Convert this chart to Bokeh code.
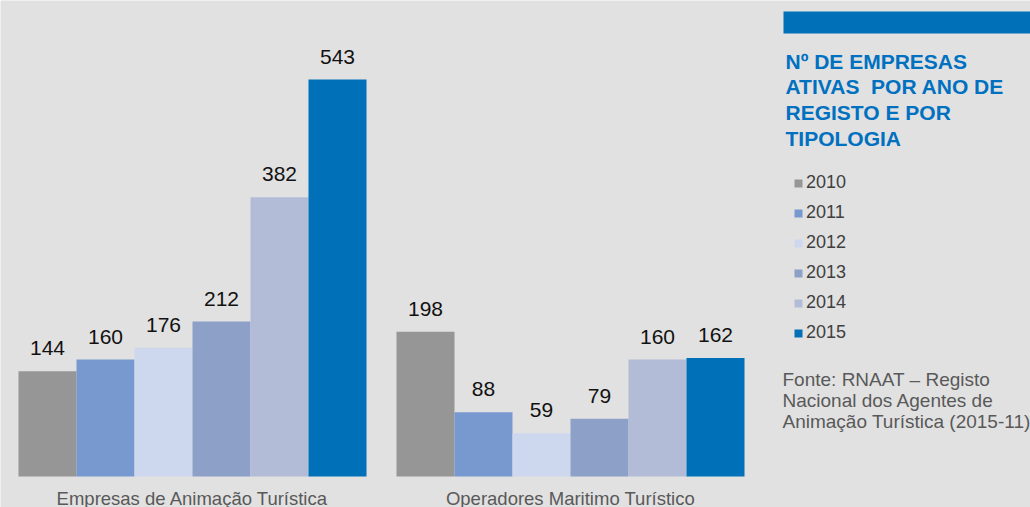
from bokeh.plotting import figure
from bokeh.models import (ColumnDataSource, LabelSet, Label, Legend, LegendItem,
                          BoxAnnotation, Range1d)
from bokeh.core.properties import value
from bokeh.embed import file_html
from bokeh.resources import INLINE

# ---- data ----
categories = ["Empresas de Animação Turística", "Operadores Maritimo Turístico"]
years = ["2010", "2011", "2012", "2013", "2014", "2015"]
values_2010 = [144, 198]
values_2011 = [160, 88]
values_2012 = [176, 59]
values_2013 = [212, 79]
values_2014 = [382, 160]
values_2015 = [543, 162]
series = [values_2010, values_2011, values_2012, values_2013, values_2014, values_2015]
title_lines = ["Nº DE EMPRESAS", "ATIVAS  POR ANO DE", "REGISTO E POR", "TIPOLOGIA"]
source_lines = ["Fonte: RNAAT – Registo", "Nacional dos Agentes de",
                "Animação Turística (2015-11)"]

# ---- style ----
colors = ["#969696", "#7899d0", "#cdd8ef", "#8da0c8", "#b3bcd7", "#0070b8"]
BG = "#e1e1e1"
FONT = "Liberation Sans"
W, H = 1030, 507
CAT_PX = 378.0          # pixels per category
BAR_PX = 58.0           # pixels per bar
Y_PX = 397.0 / 543.0    # pixels per unit value
base_px = 476.0         # baseline from top
first_center_px = 192.0

bw = BAR_PX / CAT_PX
x0 = -first_center_px / CAT_PX
y_end = base_px / Y_PX
y_start = -(H - base_px) / Y_PX

p = figure(width=W, height=H, output_backend="svg", toolbar_location=None,
           x_axis_type=None, y_axis_type=None,
           x_range=Range1d(x0, x0 + W / CAT_PX), y_range=Range1d(y_start, y_end),
           min_border=0, background_fill_color=BG, border_fill_color=BG,
           outline_line_color=None)
p.grid.visible = False

n = len(years)
items = []
for i, (yr, vals) in enumerate(zip(years, series)):
    xs = [g + (i - (n - 1) / 2.0) * bw for g in range(len(categories))]
    src = ColumnDataSource(dict(x=xs, top=vals, label=[str(v) for v in vals]))
    r = p.vbar(x="x", top="top", bottom=0, width=bw, source=src,
               fill_color=colors[i], line_color=None)
    items.append(LegendItem(label=yr, renderers=[r]))
    p.add_layout(LabelSet(x="x", y="top", text="label", source=src, y_offset=16,
                          text_align="center", text_baseline="alphabetic",
                          text_font=value(FONT), text_font_size="21px",
                          text_color="#111111"))

cat_src = ColumnDataSource(dict(x=list(range(len(categories))),
                                y=[0] * len(categories), text=categories))
p.add_layout(LabelSet(x="x", y="y", text="text", source=cat_src, y_offset=-28,
                      text_align="center", text_baseline="alphabetic",
                      text_font=value(FONT), text_font_size="18.5px",
                      text_color="#595959"))

legend = Legend(items=items, location=(793, 164), orientation="vertical",
                glyph_width=10, glyph_height=10, label_text_font=FONT,
                label_text_font_size="18px", label_text_color="#404040",
                label_standoff=3, spacing=9, padding=0, margin=0, label_height=20,
                background_fill_alpha=0, border_line_color=None)
p.add_layout(legend)

p.add_layout(BoxAnnotation(left=783, right=W, top=H - 11, bottom=H - 33,
                           left_units="screen", right_units="screen",
                           top_units="screen", bottom_units="screen",
                           fill_color="#0070b8", fill_alpha=1, line_color=None))

for k, t in enumerate(title_lines):
    p.add_layout(Label(x=785, y=H - (60.5 + k * 25.8), x_units="screen", y_units="screen",
                       text=t.replace("  ", " \u00a0"), text_font=FONT,
                       text_font_style="bold", text_font_size="21px",
                       text_color="#0070c0", text_baseline="middle"))

for k, t in enumerate(source_lines):
    p.add_layout(Label(x=782, y=H - (379 + k * 21), x_units="screen", y_units="screen",
                       text=t, text_font=FONT, text_font_size="19px",
                       text_color="#595959", text_baseline="middle"))

open("out.html", "w").write(file_html(p, INLINE))
